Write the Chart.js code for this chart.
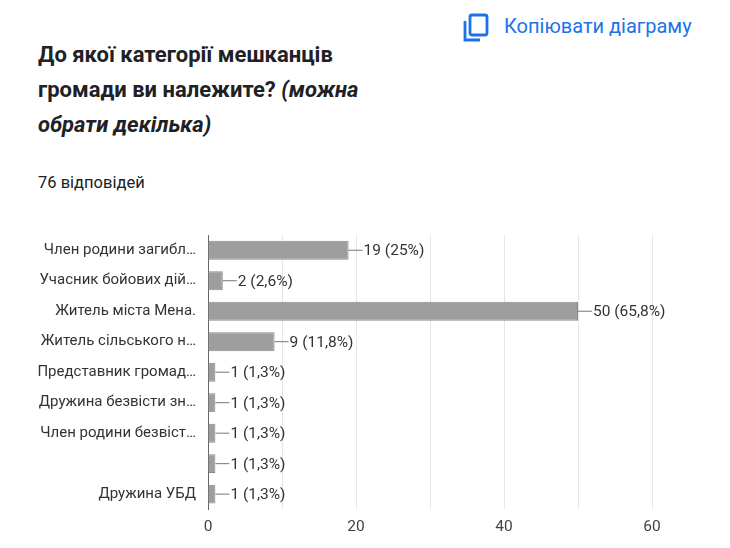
<!DOCTYPE html>
<html><head><meta charset="utf-8">
<script src="https://cdn.jsdelivr.net/npm/chart.js@4"></script>
<style>
body{margin:0;width:730px;height:548px;background:#fff;font-family:Roboto,"Noto Sans",sans-serif;position:relative;overflow:hidden}
#t{position:absolute;left:38px;top:37px;font-size:22px;font-weight:bold;line-height:35px;color:#202124}
#n{position:absolute;left:38px;top:173px;font-size:16.5px;color:#202124}
#c{position:absolute;left:504px;top:14px;font-size:20px;color:#1a73e8}
#ic{position:absolute;left:462px;top:13px}
#w{position:absolute;left:0;top:222px;width:730px;height:326px}
</style></head><body>
<div id="c">Копіювати діаграму</div>
<svg id="ic" width="28" height="30" viewBox="0 0 28 30"><rect x="8" y="2" width="17" height="20" rx="2" fill="none" stroke="#1a73e8" stroke-width="2.8"/><path d="M3 8 V27 H18" fill="none" stroke="#1a73e8" stroke-width="2.8"/></svg>
<div id="t">До якої категорії мешканців<br>громади ви належите? <i>(можна<br>обрати декілька)</i></div>
<div id="n">76 відповідей</div>
<div id="w"><canvas id="ch"></canvas></div>
<script>
const categories=["Член родини загибл…","Учасник бойових дій…","Житель міста Мена.","Житель сільського н…","Представник громад…","Дружина безвісти зн…","Член родини безвіст…","","Дружина УБД"];
const values=[19,2,50,9,1,1,1,1,1];
const labels=["19 (25%)","2 (2,6%)","50 (65,8%)","9 (11,8%)","1 (1,3%)","1 (1,3%)","1 (1,3%)","1 (1,3%)","1 (1,3%)"];
const xTicks=[0,20,40,60];
const valPlugin={id:'v',afterDatasetsDraw(ch){const ctx=ch.ctx;const m=ch.getDatasetMeta(0);ctx.save();ctx.font='15.5px Roboto';ctx.fillStyle='#333';ctx.strokeStyle='#777';ctx.lineWidth=1;ctx.textBaseline='middle';
m.data.forEach((b,i)=>{const x=b.x,y=b.y;ctx.beginPath();ctx.moveTo(x,y);ctx.lineTo(x+14,y);ctx.stroke();ctx.fillText(labels[i],x+15,y+1);});ctx.restore();}};
new Chart(document.getElementById('ch'),{type:'bar',data:{labels:categories,datasets:[{data:values,backgroundColor:'#9e9e9e',borderColor:'#8a8a8a',borderWidth:1,barPercentage:0.62,categoryPercentage:1}]},
options:{indexAxis:'y',responsive:true,maintainAspectRatio:false,animation:false,layout:{padding:{left:0,right:78,top:8,bottom:4}},
plugins:{legend:{display:false},tooltip:{enabled:false}},
scales:{x:{min:0,max:60,ticks:{stepSize:10,color:'#444',font:{size:15.5,family:'Roboto'},padding:8,callback:v=>xTicks.includes(v)?v:''},grid:{color:'#e6e6e6',drawTicks:false},border:{display:false}},
y:{afterFit(s){s.width=208},ticks:{color:'#333',font:{size:15,family:'Roboto'},padding:4},grid:{display:false},border:{color:'#666'}}}},plugins:[valPlugin]});
</script></body></html>
